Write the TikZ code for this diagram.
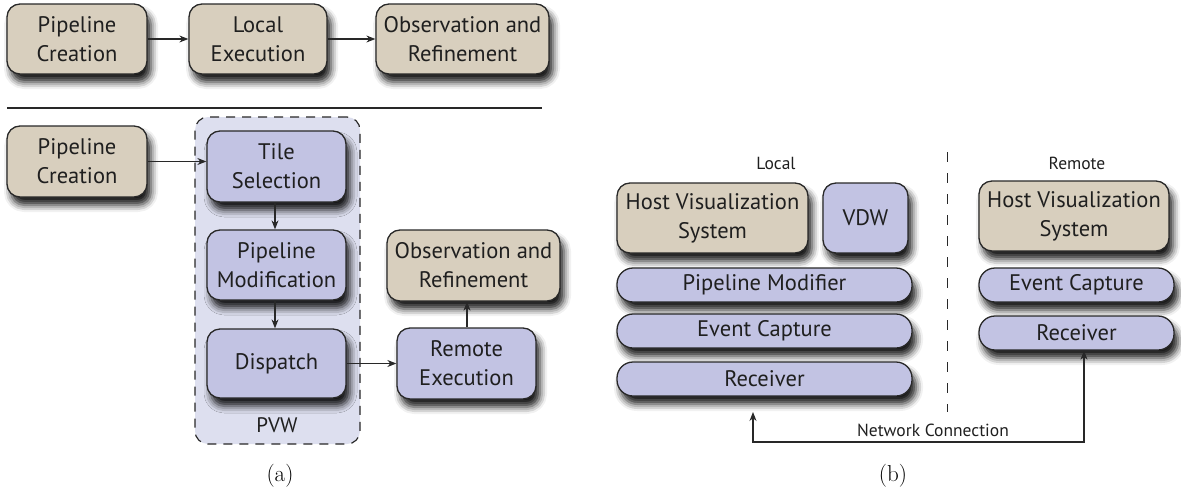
\documentclass[tikz,border=0pt]{standalone}
\usepackage{fontspec}
\newfontfamily\myr{PT Sans}
\usetikzlibrary{arrows.meta,shadows.blur}
\definecolor{beige}{RGB}{216,207,190}
\definecolor{lav}{RGB}{194,195,227}
\definecolor{contfill}{RGB}{221,223,239}
\definecolor{edge}{RGB}{40,40,40}
\tikzset{
  base/.style={draw=edge, line width=1.3pt, align=center, inner sep=0pt,
    font=\myr\fontsize{22.5}{29}\selectfont, text=black!88,
    blur shadow={shadow xshift=4pt, shadow yshift=-8pt, shadow blur radius=7pt, shadow opacity=90}},
  tanbox/.style={base, fill=beige, rounded corners=13pt},
  lavbox/.style={base, fill=lav, rounded corners=13pt},
  bar/.style={base, fill=lav, rounded corners=16pt, minimum height=34pt},
  small/.style={font=\myr\fontsize{17.5}{20}\selectfont, text=black!88, inner sep=0pt},
  conn/.style={draw=edge, line width=1.1pt, -{Stealth[length=9pt,width=7pt]}},
  captxt/.style={font=\fontsize{23}{26}\selectfont, inner sep=0pt}
}
\begin{document}
\begin{tikzpicture}[x=1pt,y=-1pt]
\useasboundingbox (0,0) rectangle (1181,490);
% ---- (a) top row
\node[tanbox, minimum width=140pt, minimum height=70pt] (pc1) at (77,39) {Pipeline\\Creation};
\node[tanbox, minimum width=138pt, minimum height=70pt] (le) at (258,39) {Local\\Execution};
\node[tanbox, minimum width=173pt, minimum height=70pt] (or1) at (462.5,39) {Observation and\\Refinement};
\draw[conn] (pc1) -- (le);
\draw[conn] (le) -- (or1);
\coordinate (sepL) at (7,108);
\coordinate (sepR) at (542,108);
\draw[draw=edge, line width=1.2pt] (sepL) -- (sepR);
% ---- (a) bottom
\node[draw=edge, fill=contfill, line width=1.2pt, dash pattern=on 9pt off 7pt, rounded corners=13pt,
      minimum width=165pt, minimum height=327pt, inner sep=0pt] (pvwbox) at (277.5,280.5) {};
\node[small, font=\myr\fontsize{21}{24}\selectfont] (pvw) at (277,425) {PVW};
\node[tanbox, minimum width=140pt, minimum height=71pt] (pc2) at (77,161.5) {Pipeline\\Creation};
\node[lavbox, minimum width=139pt, minimum height=71pt] (ts) at (276.5,166.5) {Tile\\Selection};
\node[lavbox, minimum width=139pt, minimum height=70pt] (pm) at (276.5,265) {Pipeline\\Modification};
\node[lavbox, minimum width=139pt, minimum height=69pt] (dis) at (276.5,363.5) {Dispatch};
\node[lavbox, minimum width=139pt, minimum height=71pt] (re) at (466.5,363.5) {Remote\\Execution};
\node[tanbox, minimum width=173pt, minimum height=71pt] (or2) at (473.5,265.5) {Observation and\\Refinement};
\draw[conn] (pc2.east) -- (pc2.east -| ts.west);
\draw[conn] (ts.south -| 275,0) -- (pm.north -| 275,0);
\draw[conn] (pm.south -| 275,0) -- (dis.north -| 275,0);
\draw[conn] (dis) -- (re);
\draw[conn] (re.north -| 467,0) -- (or2.south -| 467,0);
\node[captxt] (capa) at (280,476) {(a)};
% ---- (b)
\node[small] (loc) at (776,163) {Local};
\node[small] (rem) at (1077,163) {Remote};
\node[tanbox, minimum width=191pt, minimum height=70pt] (hvsL) at (712.5,218) {Host Visualization\\System};
\node[lavbox, minimum width=85pt, minimum height=70pt] (vdw) at (865.5,218) {VDW};
\node[bar, minimum width=295pt] (pmod) at (764.5,285) {Pipeline Modifier};
\node[bar, minimum width=295pt] (ecL) at (764.5,331) {Event Capture};
\node[bar, minimum width=295pt] (recvL) at (764.5,379) {Receiver};
\node[tanbox, minimum width=190pt, minimum height=70pt] (hvsR) at (1074,216) {Host Visualization\\System};
\node[bar, minimum width=195pt] (ecR) at (1076.5,285) {Event Capture};
\node[bar, minimum width=195pt] (recvR) at (1076.5,333) {Receiver};
\coordinate (dT) at (947,152);
\coordinate (dB) at (947,412);
\draw[draw=edge, line width=1pt, dash pattern=on 10pt off 11pt] (dT) -- (dB);
\coordinate (nA) at (753,412);
\coordinate (nB) at (753,442);
\coordinate (nC) at (1084,442);
\draw[conn, {Stealth[length=9pt,width=7pt]}-{Stealth[length=9pt,width=7pt]}] (nA) -- (nB) -- (nC) -- (recvR.south -| nC);
\node[small] (net) at (933,430) {Network Connection};
\node[captxt] (capb) at (893,476) {(b)};
\end{tikzpicture}
\end{document}
